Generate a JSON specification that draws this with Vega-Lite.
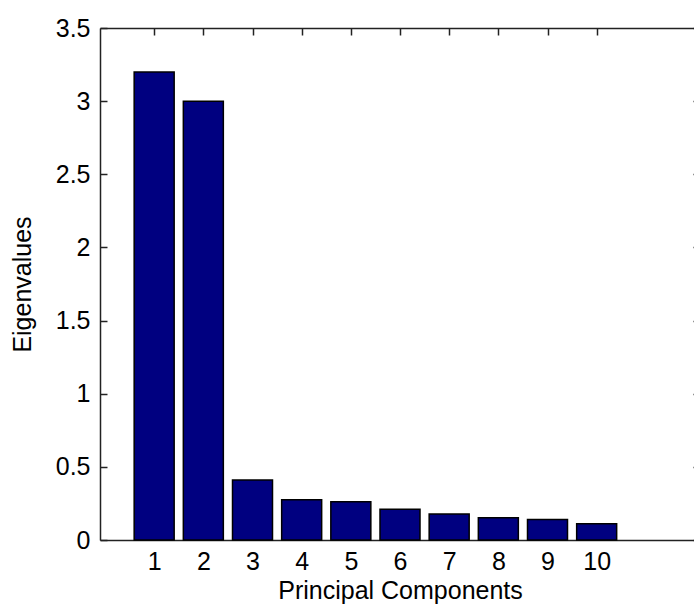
{
  "$schema": "https://vega.github.io/schema/vega-lite/v6.json",
  "width": 600,
  "height": 512,
  "autosize": {"type": "none"},
  "padding": {"left": 100, "top": 28, "right": 0, "bottom": 70},
  "background": "white",
  "config": {
    "view": {"stroke": null},
    "font": "Liberation Sans",
    "axis": {
      "labelFont": "Liberation Sans",
      "titleFont": "Liberation Sans",
      "labelFontSize": 25,
      "titleFontSize": 25,
      "titleFontWeight": "normal",
      "labelColor": "#000",
      "titleColor": "#000",
      "domainColor": "#222",
      "domainWidth": 1.5,
      "tickColor": "#222",
      "tickWidth": 1.5,
      "grid": false
    }
  },
  "data": {
    "values": [
      {"pc": 1, "eig": 3.2},
      {"pc": 2, "eig": 3.0},
      {"pc": 3, "eig": 0.41},
      {"pc": 4, "eig": 0.275},
      {"pc": 5, "eig": 0.262},
      {"pc": 6, "eig": 0.21},
      {"pc": 7, "eig": 0.178},
      {"pc": 8, "eig": 0.152},
      {"pc": 9, "eig": 0.14},
      {"pc": 10, "eig": 0.111}
    ]
  },
  "layer": [
    {
      "mark": {"type": "bar", "size": 40, "fill": "#000080", "stroke": "#000", "strokeWidth": 1.5},
      "encoding": {
        "x": {
          "field": "pc", "type": "quantitative",
          "scale": {"domain": [0, 12], "nice": false, "zero": false},
          "axis": {"orient": "bottom", "values": [1,2,3,4,5,6,7,8,9,10], "format": "~g", "tickSize": -7, "labelPadding": 16, "labelFlush": false, "labelOverlap": false, "title": "Principal Components", "titlePadding": 4}
        },
        "y": {
          "field": "eig", "type": "quantitative",
          "scale": {"domain": [0, 3.5], "nice": false},
          "axis": {"orient": "left", "values": [0,0.5,1,1.5,2,2.5,3,3.5], "format": "~g", "tickSize": -7, "labelPadding": 17, "labelFlush": false, "labelOverlap": false, "title": "Eigenvalues", "titlePadding": 20}
        }
      }
    },
    {
      "mark": {"type": "bar", "size": 40, "opacity": 0},
      "encoding": {
        "x": {
          "field": "pc", "type": "quantitative",
          "scale": {"domain": [0, 12], "nice": false, "zero": false},
          "axis": {"orient": "top", "values": [1,2,3,4,5,6,7,8,9,10], "tickSize": -7, "labels": false, "title": null}
        },
        "y": {
          "field": "eig", "type": "quantitative",
          "scale": {"domain": [0, 3.5], "nice": false},
          "axis": {"orient": "right", "values": [0,0.5,1,1.5,2,2.5,3,3.5], "tickSize": -7, "labels": false, "title": null}
        }
      }
    }
  ],
  "resolve": {"axis": {"x": "independent", "y": "independent"}}
}
